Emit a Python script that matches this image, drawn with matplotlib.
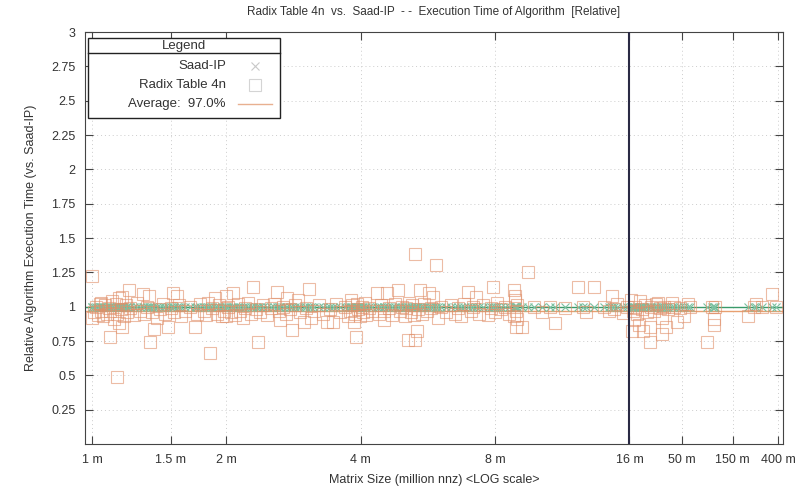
import matplotlib
matplotlib.use("Agg")
from matplotlib import pyplot as plt
from matplotlib.lines import Line2D
from matplotlib.patches import Rectangle
import numpy as np

plt.rcParams['font.family'] = ['Liberation Sans', 'DejaVu Sans']

# matrix size (million nnz) and relative time of Radix Table 4n vs. Saad-IP
sizes = [1.00, 1.00, 1.01, 1.02, 1.03, 1.04, 1.05, 1.05, 1.06, 1.07, 1.08, 1.09, 1.10, 1.10,
         1.11, 1.12, 1.13, 1.14, 1.14, 1.15, 1.15, 1.16, 1.17, 1.17, 1.18, 1.19, 1.20, 1.21,
         1.22, 1.24, 1.26, 1.28, 1.30, 1.31, 1.33, 1.34, 1.35, 1.36, 1.38, 1.40, 1.42, 1.44,
         1.46, 1.48, 1.50, 1.52, 1.53, 1.55, 1.57, 1.58, 1.62, 1.66, 1.70, 1.72, 1.75, 1.78,
         1.80, 1.82, 1.84, 1.86, 1.89, 1.91, 1.93, 1.96, 1.98, 2.00, 2.00, 2.02, 2.05, 2.07,
         2.09, 2.12, 2.15, 2.18, 2.20, 2.24, 2.27, 2.30, 2.33, 2.36, 2.38, 2.42, 2.47, 2.52,
         2.56, 2.60, 2.62, 2.64, 2.68, 2.72, 2.74, 2.78, 2.81, 2.85, 2.89, 2.93, 2.98, 3.02,
         3.06, 3.09, 3.14, 3.22, 3.30, 3.37, 3.42, 3.46, 3.52, 3.60, 3.68, 3.74, 3.78, 3.80,
         3.82, 3.86, 3.88, 3.90, 3.92, 3.95, 3.98, 4.02, 4.05, 4.08, 4.12, 4.18, 4.25, 4.36,
         4.40, 4.45, 4.50, 4.52, 4.58, 4.62, 4.70, 4.78, 4.84, 4.90, 4.96, 5.02, 5.06, 5.10,
         5.14, 5.18, 5.22, 5.28, 5.30, 5.30, 5.34, 5.38, 5.42, 5.48, 5.55, 5.62, 5.69, 5.75,
         5.80, 5.90, 5.95, 6.05, 6.20, 6.38, 6.50, 6.60, 6.72, 6.80, 6.95, 7.05, 7.15, 7.26,
         7.38, 7.50, 7.70, 7.85, 7.93, 8.00, 8.10, 8.25, 8.40, 8.60, 8.80, 8.84, 8.86, 8.88,
         8.90, 8.92, 8.95, 8.98, 9.20, 9.50, 9.80, 10.2, 10.6, 10.9, 11.5, 12.3, 12.6, 12.8,
         13.3, 14.0, 14.4, 14.6, 14.8, 15.0, 15.5, 15.8,
         16.5, 16.9, 17.2, 17.6, 18.2, 19.0, 19.8, 20.0, 20.8, 21.5, 22.5, 23.5, 25.0, 25.0,
         25.5, 27.0, 28.5, 30.0, 31.0, 32.5, 32.5, 34.0, 35.0, 37.0, 40.0, 42.0, 45.0, 48.0,
         52.0, 57.0, 60.0, 86.0, 95.0, 99.0, 99.0, 103.0, 208.0, 240.0, 250.0, 280.0, 350.0,
         380.0]
radix = [1.22, 0.92, 0.96, 1.00, 0.94, 1.02, 1.03, 0.97, 0.93, 1.01, 0.95, 0.99, 0.78, 0.97,
         1.04, 0.91, 1.02, 0.49, 0.95, 0.88, 1.06, 0.98, 1.07, 0.85, 0.93, 1.01, 0.96, 1.12,
         0.99, 0.94, 1.03, 0.97, 1.09, 0.95, 1.00, 1.08, 0.74, 0.96, 0.84, 0.92, 0.98, 1.02,
         0.95, 0.855, 0.99, 1.10, 0.96, 1.08, 1.01, 0.93, 0.97, 1.00, 0.855, 0.95, 1.02, 0.97,
         0.94, 1.03, 0.66, 0.99, 1.06, 0.95, 1.01, 0.93, 0.97, 1.08, 0.93, 1.00, 0.96, 1.10,
         0.94, 1.02, 0.97, 0.92, 0.99, 1.03, 0.95, 1.14, 0.98, 0.74, 0.96, 1.01, 0.94, 0.99,
         1.02, 1.11, 0.97, 0.905, 1.00, 0.95, 1.065, 0.98, 0.83, 1.01, 1.05, 0.96, 0.89, 0.99,
         1.13, 0.92, 0.97, 1.01, 0.95, 0.89, 0.98, 0.89, 1.02, 0.96, 1.00, 0.93, 0.97, 1.05,
         1.01, 0.89, 0.95, 0.78, 1.02, 0.98, 0.93, 1.00, 0.96, 1.03, 0.94, 0.99, 0.97, 1.10,
         0.95, 1.01, 0.905, 0.97, 1.10, 0.99, 0.94, 1.02, 1.12, 0.97, 1.00, 0.93, 0.99, 0.76,
         1.03, 0.96, 1.01, 0.94, 1.385, 0.76, 0.82, 0.98, 1.12, 0.95, 1.02, 0.97, 1.10, 0.99,
         1.07, 1.30, 0.92, 1.00, 0.96, 1.01, 0.95, 0.99, 0.93, 1.02, 1.11, 0.97, 1.00, 1.07,
         0.95, 1.01, 0.94, 0.99, 1.14, 0.96, 1.03, 0.98, 1.00, 0.95, 0.93, 1.12, 1.05, 1.08,
         0.855, 0.97, 0.91, 1.01, 0.85, 1.255, 1.00, 0.96, 1.00, 0.88, 0.99, 1.145, 1.00, 0.96,
         1.145, 1.00, 0.97, 1.075, 0.98, 1.02, 0.955, 1.00,
         1.05, 0.82, 0.97, 0.905, 1.00, 0.95, 0.87, 1.04, 0.98, 0.82, 1.01, 0.96, 0.855, 0.74,
         1.00, 0.97, 1.02, 1.03, 0.99, 0.92, 0.80, 1.00, 0.855, 0.98, 1.03, 1.00, 0.89, 0.99,
         0.93, 1.02, 1.00, 0.74, 1.00, 0.91, 0.87, 1.00, 0.93, 1.00, 1.02, 1.00, 1.095,
         1.00]
saad = [1.0] * len(sizes)
average = 0.97

xticks = [1, 1.5, 2, 4, 8, 16, 50, 150, 400]
xticklabels = ["1 m", "1.5 m", "2 m", "4 m", "8 m", "16 m", "50 m", "150 m", "400 m"]
yticks = [0.25, 0.5, 0.75, 1, 1.25, 1.5, 1.75, 2, 2.25, 2.5, 2.75, 3]
yticklabels = ["0.25", "0.5", "0.75", "1", "1.25", "1.5", "1.75", "2", "2.25", "2.5", "2.75", "3"]

# log scale, compressed above 16 m
BREAK = 16.0
K = 106 / 445


def fwd(x):
    lx = np.log10(np.clip(np.asarray(x, dtype=float), 1e-9, None))
    lb = np.log10(BREAK)
    return np.where(lx <= lb, lx, lb + (lx - lb) * K)


def inv(u):
    u = np.asarray(u, dtype=float)
    lb = np.log10(BREAK)
    return np.where(u <= lb, 10 ** u, 10 ** (lb + (u - lb) / K))


text_col = "#333333"
sq_col = "#e0906a"
fig = plt.figure(figsize=(7.98, 4.93), dpi=100)
ax = fig.add_axes([85 / 798, 1 - 444 / 493, 698 / 798, 412 / 493])
ax.set_xscale('function', functions=(fwd, inv))
ax.set_xlim(0.965, 445)
ax.set_ylim(0, 3)

ax.grid(True, color="#cccccc", linestyle=(0, (1, 3)), linewidth=0.7)
ax.set_axisbelow(True)

ax.axhline(1.0, color="#3a9a6a", linewidth=1.0, zorder=2)
ax.axhline(average, color="#e8a070", linewidth=1.0, zorder=2)
ax.plot(sizes, saad, linestyle="none", marker="x", markersize=6, mew=0.8,
        color="#7cc0a0", zorder=3)
ax.plot(sizes, radix, linestyle="none", marker="s", markersize=8, mew=0.8,
        markerfacecolor="none", markeredgecolor=sq_col, alpha=0.6, zorder=4)
ax.axvline(BREAK, color="#2a2a44", linewidth=1.5, zorder=5)

ax.set_xticks(xticks)
ax.set_xticklabels(xticklabels)
ax.xaxis.set_minor_locator(matplotlib.ticker.NullLocator())
ax.set_yticks(yticks)
ax.set_yticklabels(yticklabels)
ax.tick_params(direction="in", top=True, right=True, length=6, width=0.8,
               labelsize=9, colors="#444444", labelcolor=text_col, pad=7)
for s in ax.spines.values():
    s.set_color("#444444")
    s.set_linewidth(0.8)

ax.set_title("Radix Table 4n  vs.  Saad-IP  - -  Execution Time of Algorithm  [Relative]",
             fontsize=8.5, color=text_col, pad=12)
ax.set_xlabel("Matrix Size (million nnz) <LOG scale>", fontsize=9, color=text_col, labelpad=6)
ax.set_ylabel("Relative Algorithm Execution Time (vs. Saad-IP)", fontsize=9, color=text_col,
              labelpad=10)

# gnuplot style key box: title row, right aligned labels, sample to the right
tr = ax.transAxes
ax.add_patch(Rectangle((0.0043, 0.791), 0.2747, 0.194, transform=tr, facecolor="white",
                       edgecolor="#222222", linewidth=1.0, zorder=10))
ax.add_line(Line2D([0.0043, 0.279], [0.949, 0.949], transform=tr, color="#222222",
                   linewidth=1.0, zorder=11))
ax.text(0.142, 0.967, "Legend", transform=tr, ha="center", va="center", fontsize=9.5,
        color=text_col, zorder=11)
key_y = [0.917, 0.871, 0.825]
key_labels = ["Saad-IP", "Radix Table 4n", "Average:  97.0%"]
for yy, lab in zip(key_y, key_labels):
    ax.text(0.202, yy, lab, transform=tr, ha="right", va="center", fontsize=9.5,
            color=text_col, zorder=11)
ax.add_line(Line2D([0.2436], [key_y[0]], transform=tr, linestyle="none", marker="x",
                   markersize=6, mew=0.8, color="#c8c8c8", zorder=11))
ax.add_line(Line2D([0.2436], [key_y[1]], transform=tr, linestyle="none", marker="s",
                   markersize=8, mew=0.8, markerfacecolor="none", markeredgecolor="#d4d4d4",
                   zorder=11))
ax.add_line(Line2D([0.219, 0.268], [key_y[2], key_y[2]], transform=tr, color="#e8b090",
                   linewidth=1.0, zorder=11))

plt.savefig("out.png", dpi=100)
